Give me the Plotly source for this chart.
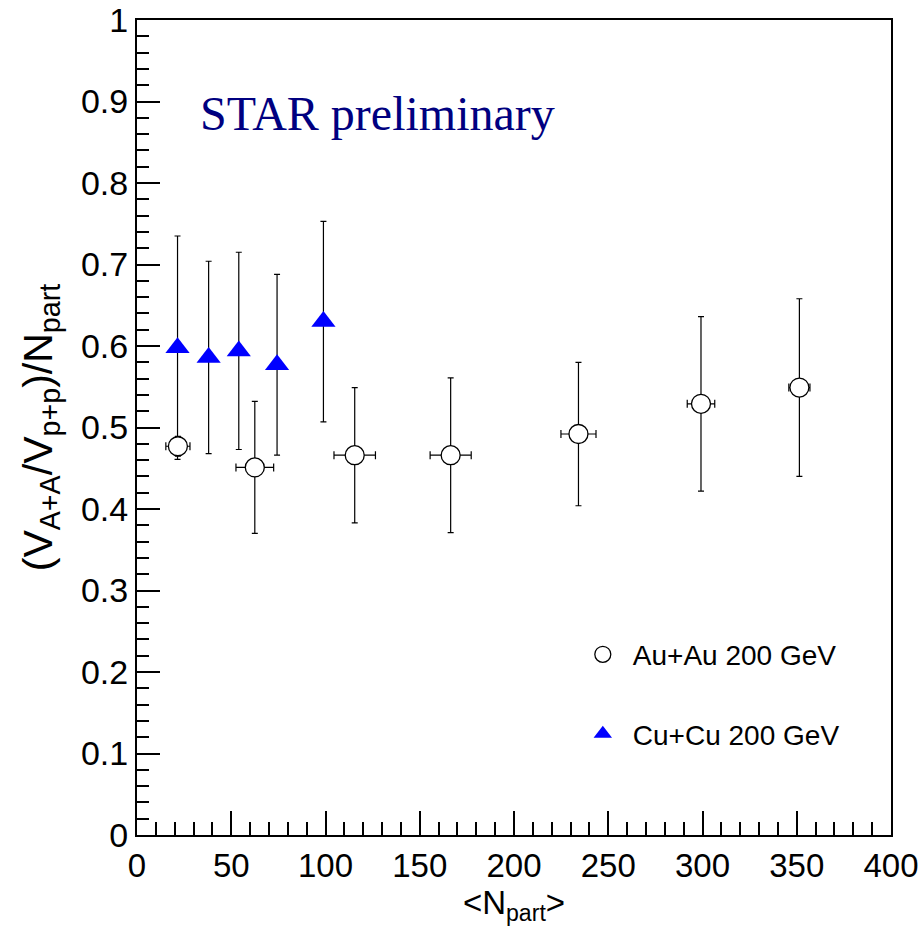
import plotly.graph_objects as go

# Au+Au 200 GeV
au_x = [21.7, 62.5, 115.5, 166.4, 234.2, 299.2, 351.4]
au_y = [0.477, 0.451, 0.466, 0.466, 0.492, 0.529, 0.549]
au_ey = [0.012, 0.081, 0.083, 0.095, 0.088, 0.107, 0.109]
au_ex = [6.4, 10.0, 11.0, 10.9, 9.3, 7.3, 5.6]

# Cu+Cu 200 GeV
cu_x = [21.5, 38.0, 54.0, 74.3, 98.9]
cu_y = [0.598, 0.586, 0.594, 0.577, 0.630]
cu_ey = [0.137, 0.118, 0.121, 0.111, 0.123]

# axis ticks
y_tickvals = [0, 0.1, 0.2, 0.3, 0.4, 0.5, 0.6, 0.7, 0.8, 0.9, 1.0]
y_ticktext = ["0", "0.1", "0.2", "0.3", "0.4", "0.5", "0.6", "0.7", "0.8", "0.9", "1"]
x_tickvals = [0, 50, 100, 150, 200, 250, 300, 350, 400]
x_ticktext = ["0", "50", "100", "150", "200", "250", "300", "350", "400"]

FONT = "Liberation Sans Narrow, Liberation Sans, Arial, sans-serif"

fig = go.Figure()
fig.add_trace(go.Scatter(
    x=cu_x, y=cu_y, mode="markers", name="Cu+Cu 200 GeV",
    legendrank=2, legendgroup="cu",
    marker=dict(symbol="triangle-up", size=21, color="#0000ff",
                line=dict(width=0)),
    error_y=dict(type="data", array=cu_ey, color="black", thickness=1.2, width=3),
))
fig.add_trace(go.Scatter(
    x=au_x, y=au_y, mode="markers", name="Au+Au 200 GeV",
    legendrank=1, legendgroup="au",
    marker=dict(symbol="circle", size=19, color="white",
                line=dict(width=1.3, color="black")),
    error_y=dict(type="data", array=au_ey, color="black", thickness=1.2, width=3),
    error_x=dict(type="data", array=au_ex, color="black", thickness=1.2, width=4),
))

fig.add_annotation(
    x=32.4, y=0.885, xref="x", yref="y", text="STAR preliminary",
    showarrow=False, xanchor="left", yanchor="middle",
    font=dict(family="Liberation Serif, Times New Roman, serif", size=48, color="#000080"),
)

fig.update_layout(
    width=923, height=940,
    margin=dict(l=137, r=32, t=20, b=105),
    paper_bgcolor="white", plot_bgcolor="white",
    showlegend=True,
    legend=dict(x=0.578, y=0.252, xanchor="left", yanchor="top",
                font=dict(family=FONT, size=28, color="black"),
                bgcolor="rgba(0,0,0,0)", tracegroupgap=40,
                traceorder="grouped", itemwidth=50),
    font=dict(family=FONT, color="black"),
)

fig.update_xaxes(
    range=[0, 400], tickmode="array", tickvals=x_tickvals, ticktext=x_ticktext,
    showgrid=False, zeroline=False, automargin=False,
    showline=True, linecolor="black", linewidth=2, mirror=True,
    ticks="inside", ticklen=24, tickwidth=1.5, tickcolor="black",
    minor=dict(dtick=10, tick0=0, ticks="inside", ticklen=13, tickwidth=1.5, tickcolor="black"),
    tickfont=dict(family=FONT, size=33, color="black"),
    title=dict(text="&lt;N<sub>part</sub>&gt;", font=dict(family=FONT, size=33, color="black"),
               standoff=6),
)
fig.update_yaxes(
    range=[0, 1], tickmode="array", tickvals=y_tickvals, ticktext=y_ticktext,
    showgrid=False, zeroline=False, automargin=False,
    showline=True, linecolor="black", linewidth=2, mirror=True,
    ticks="inside", ticklen=23, tickwidth=1.5, tickcolor="black",
    minor=dict(dtick=0.02, tick0=0, ticks="inside", ticklen=12, tickwidth=1.5, tickcolor="black"),
    tickfont=dict(family=FONT, size=34, color="black"),
    title=dict(text="(V<sub>A+A</sub>/V<sub>p+p</sub>)/N<sub>part</sub>",
               font=dict(family=FONT, size=41, color="black"), standoff=16),
)

fig.write_html("out.html")
